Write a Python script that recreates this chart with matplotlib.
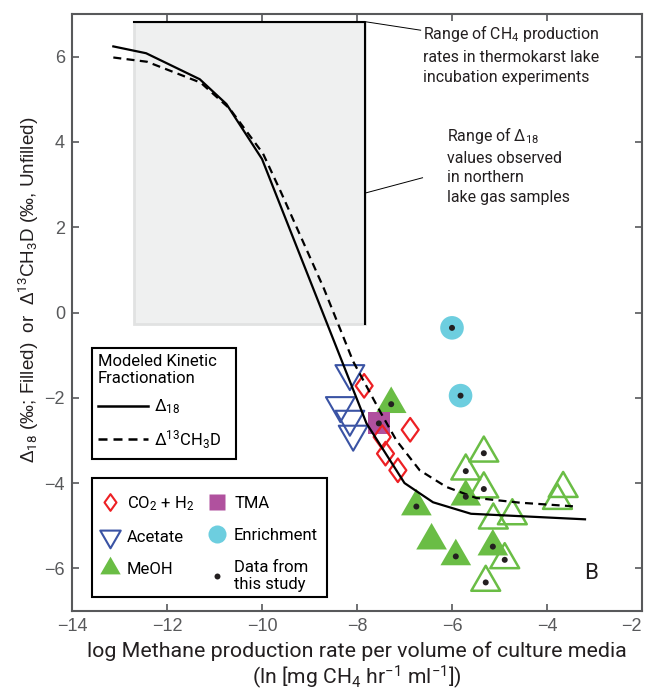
import numpy as np
import matplotlib
matplotlib.use("Agg")
from matplotlib import pyplot as plt
from matplotlib.lines import Line2D
from matplotlib.patches import Rectangle
from matplotlib.path import Path

plt.rcParams['font.family'] = ['Roboto', 'DejaVu Sans']
plt.rcParams['mathtext.fontset'] = 'custom'
plt.rcParams['mathtext.rm'] = 'Roboto'
plt.rcParams['mathtext.it'] = 'Roboto:italic'
plt.rcParams['mathtext.bf'] = 'Roboto:bold'

# modeled kinetic fractionation curves
d18_x = [-13.13, -12.44, -11.31, -10.75, -10.0, -7.8, -7.0, -6.4, -5.6, -3.2]
d18_y = [6.24, 6.08, 5.47, 4.89, 3.6, -2.6, -4.0, -4.45, -4.72, -4.85]
dD_x = [-13.13, -12.42, -11.29, -10.68, -9.98, -9.6, -8.7, -8.08, -7.5, -7.17,
        -6.68, -6.12, -5.49, -4.57, -3.38]
dD_y = [5.98, 5.88, 5.39, 4.78, 3.73, 2.82, 0.57, -1.15, -2.35, -3.0,
        -3.70, -4.09, -4.35, -4.46, -4.55]

# culture data (ours = 1 -> data from this study, black dot)
co2_x = [-7.85, -6.88, -7.47, -7.40, -7.14]
co2_y = [-1.72, -2.75, -2.92, -3.31, -3.70]
co2_ours = [0, 0, 0, 0, 0]

acetate_x = [-8.15, -8.35, -8.15, -8.08]
acetate_y = [-1.43, -2.18, -2.50, -2.85]
acetate_ours = [0, 0, 0, 0]

meoh_fill_x = [-7.28, -6.75, -6.43, -5.92, -5.71, -5.14]
meoh_fill_y = [-2.15, -4.55, -5.35, -5.72, -4.32, -5.49]
meoh_fill_ours = [1, 1, 0, 1, 1, 1]

meoh_open_x = [-5.33, -5.71, -5.33, -5.13, -4.73, -4.89, -5.29, -3.66, -3.78]
meoh_open_y = [-3.30, -3.72, -4.14, -4.87, -4.77, -5.80, -6.33, -4.13, -4.41]
meoh_open_ours = [1, 1, 1, 0, 0, 1, 1, 0, 0]

tma_x = [-7.54]
tma_y = [-2.60]
tma_ours = [1]

enrich_x = [-6.0, -5.82]
enrich_y = [-0.36, -1.95]
enrich_ours = [1, 1]

# ranges
incub_range = (-12.70, -7.83)
lake_range = (-0.26, 6.82)

red = '#ED2024'
blue = '#3A53A4'
green = '#6ABD45'
purple = '#B0519E'
cyan = '#6DCEDF'
dark = '#231F20'
grey = '#58595B'


def closed(verts):
    return Path(verts + [verts[0]], [Path.MOVETO] + [Path.LINETO] * (len(verts) - 1) + [Path.CLOSEPOLY])


tri_up = closed([(0, 1), (-0.866, -0.5), (0.866, -0.5)])
tri_dn = closed([(0, -1), (-0.866, 0.5), (0.866, 0.5)])
diam = closed([(0, 1), (0.72, 0), (0, -1), (-0.72, 0)])

fig = plt.figure(figsize=(6.48, 6.93), dpi=100)
ax = fig.add_axes([72/648, 1 - 611/693, 570/648, 597/693])

# shaded box of observed ranges
ax.add_patch(Rectangle((incub_range[0], lake_range[0]), incub_range[1] - incub_range[0],
                       lake_range[1] - lake_range[0], facecolor='#EFF0F0',
                       edgecolor='#E1E2E2', lw=2, zorder=1))
ax.plot([incub_range[0], incub_range[1], incub_range[1]],
        [lake_range[1], lake_range[1], lake_range[0]], color='k', lw=1.5, zorder=2)

# markers
ax.scatter(acetate_x, acetate_y, marker=tri_dn, s=24**2, facecolor='none',
           edgecolor=blue, linewidth=1.5, zorder=3)
ax.scatter(meoh_open_x, meoh_open_y, marker=tri_up, s=24**2, facecolor='none',
           edgecolor=green, linewidth=1.8, zorder=3)
ax.scatter(meoh_fill_x, meoh_fill_y, marker=tri_up, s=25.5**2, facecolor=green,
           edgecolor='none', zorder=3)
ax.scatter(tma_x, tma_y, marker='s', s=16**2, facecolor=purple, edgecolor='none', zorder=3)
ax.scatter(enrich_x, enrich_y, marker='o', s=17**2, facecolor=cyan, edgecolor='none', zorder=3)
ax.scatter(co2_x, co2_y, marker=diam, s=17**2, facecolor='none',
           edgecolor=red, linewidth=1.6, zorder=4)

# model lines
ax.plot(d18_x, d18_y, color='k', lw=1.6, zorder=5)
ax.plot(dD_x, dD_y, color='k', lw=1.6, ls=(0, (3.6, 2.4)), zorder=5)

# black dots for data from this study
dot_x, dot_y = [], []
for xs, ys, flags in [(co2_x, co2_y, co2_ours), (acetate_x, acetate_y, acetate_ours),
                      (meoh_fill_x, meoh_fill_y, meoh_fill_ours),
                      (meoh_open_x, meoh_open_y, meoh_open_ours),
                      (tma_x, tma_y, tma_ours), (enrich_x, enrich_y, enrich_ours)]:
    for x, y, f in zip(xs, ys, flags):
        if f:
            dot_x.append(x)
            dot_y.append(y)
ax.scatter(dot_x, dot_y, marker='o', s=4.3**2, color=dark, edgecolor='none', zorder=6)

# annotations
ax.text(-6.62, 6.78, 'Range of CH$_4$ production\nrates in thermokarst lake\nincubation experiments',
        ha='left', va='top', fontsize=11.4, color=dark, linespacing=1.45)
ax.plot([incub_range[1], -6.66], [lake_range[1], 6.62], color='k', lw=0.7)
ax.text(-6.10, 4.40, 'Range of Δ$_{18}$\nvalues observed\nin northern\nlake gas samples',
        ha='left', va='top', fontsize=11.4, color=dark, linespacing=1.4)
ax.plot([incub_range[1], -6.62], [2.80, 3.16], color='k', lw=0.7)
ax.text(-3.07, -6.11, 'B', ha='center', va='center', fontsize=16, color=dark)

ax.set_xlim(-14, -2)
ax.set_ylim(-7, 7)
ax.set_xticks(np.arange(-14, -1, 2))
ax.set_yticks(np.arange(-6, 7, 2))
ax.tick_params(direction='in', top=True, right=True, length=5, width=1.2,
               color=grey, labelcolor=grey, labelsize=13, pad=5)
for lbl in ax.get_xticklabels() + ax.get_yticklabels():
    lbl.set_fontfamily('Liberation Sans')
ax.get_xticklabels()[-1].set_ha('right')
for sp in ax.spines.values():
    sp.set_color(grey)
    sp.set_linewidth(1.5)

fig.text(29/648, 1 - 290/693, 'Δ$_{18}$ (‰; Filled)  or  Δ$^{13}$CH$_3$D (‰, Unfilled)',
         rotation=90, ha='center', va='center', fontsize=13.6, color=dark,
         family=['Liberation Sans', 'DejaVu Sans'])
fig.text(357/648, 1 - 651/693, 'log Methane production rate per volume of culture media',
         ha='center', va='center', fontsize=15.4, color=dark)
fig.text(357/648, 1 - 677/693, '(ln [mg CH$_4$ hr$^{-1}$ ml$^{-1}$])',
         ha='center', va='center', fontsize=15.2, color=dark)

# legend for model lines (frame drawn separately)
ax.add_patch(Rectangle((0.035, 0.2546), 0.2527, 0.1859, transform=ax.transAxes,
                       facecolor='white', edgecolor='k', lw=1.5, zorder=7))
h1 = [Line2D([], [], color='k', lw=1.8),
      Line2D([], [], color='k', lw=1.8, ls=(0, (3.6, 2.4)))]
leg1 = ax.legend(h1, ['Δ$_{18}$', 'Δ$^{13}$CH$_3$D'], title='Modeled Kinetic\nFractionation',
                 loc='upper left', bbox_to_anchor=(0.035, 0.441), borderaxespad=0,
                 frameon=False, fontsize=12, title_fontsize=12, alignment='left',
                 handlelength=3.0, handletextpad=0.4, labelspacing=0.7, borderpad=0.35)
leg1.set_zorder(8)
ax.add_artist(leg1)

# legend for culture types (frame drawn separately)
ax.add_patch(Rectangle((0.035, 0.024), 0.412, 0.199, transform=ax.transAxes,
                       facecolor='white', edgecolor='k', lw=1.5, zorder=7))
h2 = [Line2D([], [], ls='none', marker=diam, ms=12, mfc='none', mec=red, mew=1.5),
      Line2D([], [], ls='none', marker=tri_dn, ms=17, mfc='none', mec=blue, mew=1.5),
      Line2D([], [], ls='none', marker=tri_up, ms=17, mfc=green, mec='none'),
      Line2D([], [], ls='none', marker='s', ms=11, mfc=purple, mec='none'),
      Line2D([], [], ls='none', marker='o', ms=13, mfc=cyan, mec='none'),
      Line2D([], [], ls='none', marker='o', ms=4.3, mfc=dark, mec='none')]
lab2 = ['CO$_2$ + H$_2$', 'Acetate', 'MeOH', 'TMA', 'Enrichment', 'Data from\nthis study']
leg2 = ax.legend(h2, lab2, ncol=2, loc='upper left', bbox_to_anchor=(0.0496, 0.196),
                 borderaxespad=0, frameon=False, fontsize=12, handlelength=1.2,
                 handletextpad=0.4, columnspacing=0.8, labelspacing=1.02, borderpad=0)
leg2.set_zorder(8)

fig.savefig('out.png', dpi=100)
